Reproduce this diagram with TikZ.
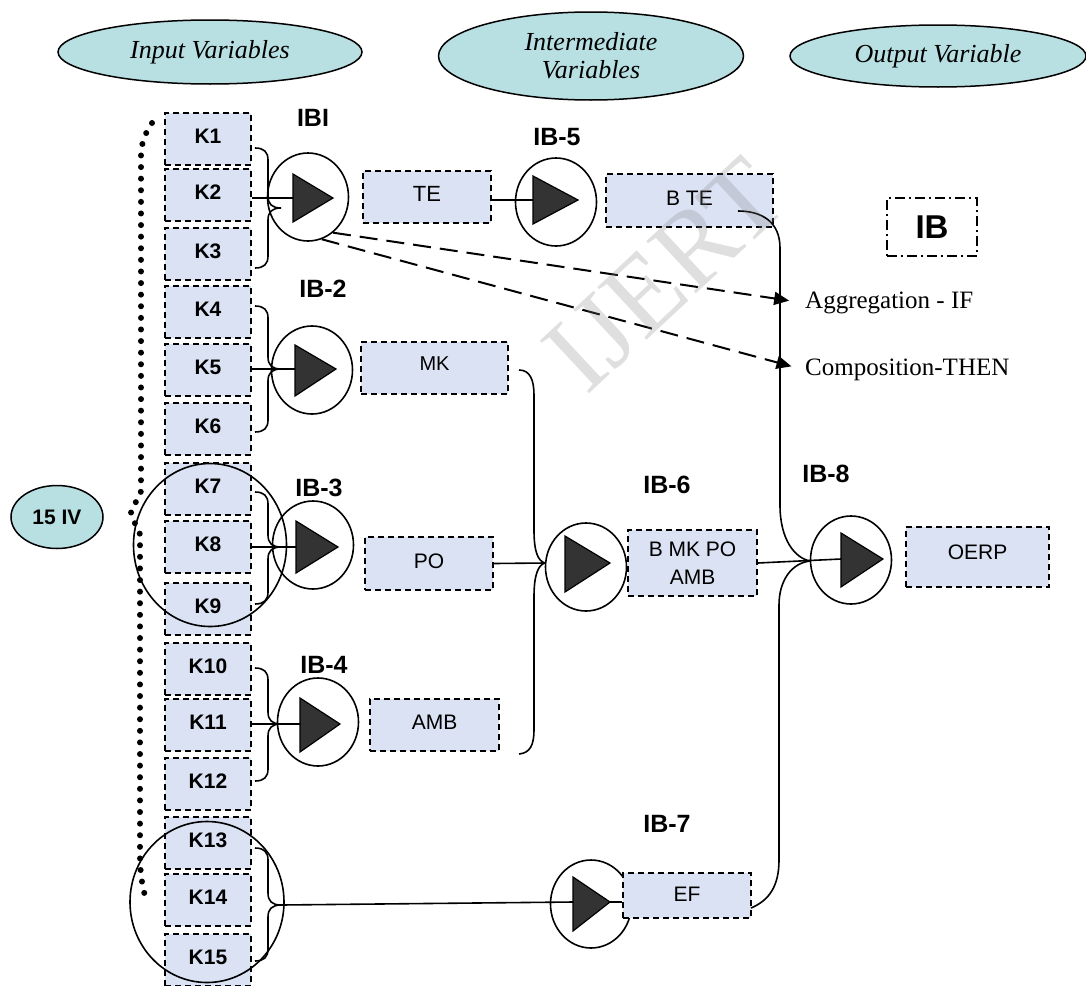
\documentclass[tikz,border=0pt]{standalone}
\usepackage{fontspec}
\setmainfont{Liberation Sans}
\newfontfamily\serifrm{Liberation Serif}
\usetikzlibrary{shapes.geometric,arrows.meta,calc}
\definecolor{ellfill}{RGB}{184,223,226}
\definecolor{boxfill}{RGB}{218,226,243}
\definecolor{trifill}{RGB}{51,51,51}
\newcommand{\fs}[1]{\fontsize{#1}{#1}\selectfont}
\newcommand{\rz}[2]{\raisebox{#1pt}{#2}}
% triangle: name, left x, top y, bottom y, tip x, tip y
\newcommand{\tri}[6]{%
  \filldraw[fill=trifill, draw=black, line width=1.2pt, line join=miter] (#2,#3) -- (#5,#6) -- (#2,#4) -- cycle;
  \coordinate (#1) at (#2,#6);
  \coordinate (#1tip) at (#5,#6);}
% brace: top y, mid y, bottom y, tip name
\newcommand{\kbrace}[4]{%
  \draw[conn] (255,#1) .. controls (264,#1) and (268,#1+4) .. (268,#1+12)
     -- (268,#2-12) .. controls (268,#2-4) and (272,#2) .. (281,#2) coordinate (#4)
     .. controls (272,#2) and (268,#2+4) .. (268,#2+12)
     -- (268,#3-12) .. controls (268,#3-4) and (264,#3) .. (255,#3);}
\begin{document}
\begin{tikzpicture}[x=1pt,y=-1pt,
  hdr/.style={ellipse, draw, line width=1.5pt, fill=ellfill, inner sep=0pt, align=center,
    font=\serifrm\itshape\fontsize{26}{28}\selectfont},
  kbox/.style={draw, line width=1.6pt, dash pattern=on 6pt off 4pt, fill=boxfill,
    minimum width=86pt, minimum height=52pt, inner sep=0pt, font=\bfseries\fs{21}},
  vbox/.style={draw, line width=1.6pt, dash pattern=on 6pt off 4pt, fill=boxfill,
    inner sep=0pt, font=\fs{21}},
  gate/.style={ellipse, draw, line width=1.6pt, minimum width=81pt, minimum height=88pt, inner sep=0pt},
  iblab/.style={font=\bfseries\fs{25}, inner sep=0pt},
  conn/.style={line width=1.6pt},
  dasharr/.style={line width=2pt, dash pattern=on 18pt off 9pt, -{Triangle[length=15pt,width=13pt]}},
  dotline/.style={line width=6pt, line cap=round, dash pattern=on 0pt off 11.6pt},
  sidetext/.style={anchor=west, inner sep=0pt, font=\serifrm\fs{25}}
]
\useasboundingbox (0,0) rectangle (1086,985);

% header ellipses
\node[hdr, minimum width=304pt, minimum height=64pt] (hin) at (210,52) {Input Variables};
\node[hdr, minimum width=305pt, minimum height=88pt] (hmid) at (591,56) {Intermediate\\Variables};
\node[hdr, minimum width=296pt, minimum height=62pt] (hout) at (938,56) {Output Variable};
\node[hdr, font=\bfseries\fs{21}, minimum width=92pt, minimum height=63pt] (iv) at (57,517) {15 IV};

% dotted line
\draw[dotline] (152,123) .. controls (146,132) and (141,142) .. (141,156) -- (141,490)
  .. controls (141,500) and (131,504) .. (131,513) .. controls (131,522) and (140,526) .. (140,536)
  -- (140,855) .. controls (140,875) and (143,890) .. (147,903);

% K boxes
\foreach \i/\t in {1/113,2/169,3/228,4/286,5/344,6/403,7/463,8/521,9/583,10/643,11/699,12/758,13/817,14/874,15/934}
  \node[kbox] (K\i) at (208,\t+26) {\rz{5}{K\i}};

% grouping circles
\node[ellipse, draw, line width=1.6pt, minimum width=153pt, minimum height=163pt, inner sep=0pt] (c789) at (210,545) {};
\node[ellipse, draw, line width=1.6pt, minimum width=154pt, minimum height=161pt, inner sep=0pt] (c1315) at (207,902) {};

% braces
\kbrace{148}{208}{268}{b1}
\kbrace{306}{369}{432}{b2}
\kbrace{492}{547}{604}{b3}
\kbrace{668}{724}{781}{b4}
\kbrace{848}{905}{961}{b5}

% gates
\node[gate] (g1) at (308,197) {};
\node[gate] (g2) at (312,370) {};
\node[gate] (g3) at (313,545) {};
\node[gate] (g4) at (318,722) {};
\node[gate] (g5) at (556,202) {};
\node[gate] (g6) at (586,567) {};
\node[gate] (g7) at (591,904) {};
\node[gate] (g8) at (851,560) {};

% gate labels
\node[iblab] (l1) at (313,118) {IBI};
\node[iblab] (l2) at (323,289) {IB-2};
\node[iblab] (l3) at (319,488) {IB-3};
\node[iblab] (l4) at (324,665) {IB-4};
\node[iblab] (l5) at (557,137) {IB-5};
\node[iblab] (l6) at (667,485) {IB-6};
\node[iblab] (l7) at (667,824) {IB-7};
\node[iblab] (l8) at (826,474) {IB-8};

% value boxes
\node[vbox, font=\fs{22}, minimum width=128pt, minimum height=52pt] (TE) at (427,197) {\rz{6}{TE}};
\node[vbox, minimum width=167pt, minimum height=53pt] (BTE) at (689.5,200.5) {\rz{5}{B TE}};
\node[vbox, font=\fs{20}, minimum width=147pt, minimum height=52pt] (MK) at (434.5,368) {\rz{8}{MK}};
\node[vbox, font=\fs{21}, minimum width=128pt, minimum height=53pt] (PO) at (429,563.5) {\rz{5}{PO}};
\node[vbox, font=\fs{21}, minimum width=129pt, minimum height=52pt] (AMB) at (434.5,725) {\rz{6}{AMB}};
\node[vbox, align=center, font=\fontsize{21}{28}\selectfont, minimum width=129pt, minimum height=66pt] (BMK) at (692.5,563) {B MK PO\\AMB};
\node[vbox, minimum width=128pt, minimum height=45pt] (EF) at (687,895.5) {\rz{2}{EF}};
\node[vbox, minimum width=143pt, minimum height=60pt] (OERP) at (977.5,557) {\rz{10}{OERP}};

% legend
\node[draw, line width=1.5pt, dash pattern=on 10pt off 4pt on 2pt off 4pt, minimum width=90pt,
  minimum height=58pt, inner sep=0pt, font=\bfseries\fs{33}] (leg) at (932,227) {IB};

% side texts
\node[sidetext] (agg) at (805,303) {Aggregation - IF};
\node[sidetext] (comp) at (805,370) {Composition-THEN};

% connection points
\coordinate (m6in) at (545,563);
\coordinate (m8in) at (810,561);
\coordinate (mkout) at (519,370);
\coordinate (ambout) at (519,754);
\coordinate (bteout) at (738,211);
\coordinate (efout) at (751,908);

% triangle anchor points for connectors
\coordinate (t1) at (293,198);
\coordinate (t2) at (295,369);
\coordinate (t3) at (296,547);
\coordinate (t4) at (300,724);
\coordinate (t5) at (533,200);
\coordinate (t7) at (573,902);
\coordinate (t7tip) at (610,902);
\coordinate (t8) at (841,559);

% connectors
\draw[conn] (K2.east |- t1) -- (t1);
\draw[conn] (K5.east |- t2) -- (t2);
\draw[conn] (K8.east |- t3) -- (t3);
\draw[conn] (K11.east |- t4) -- (t4);
\draw[conn] (b5) -- (t7);
\draw[conn] (TE.east |- t5) -- (t5);
\draw[conn] (t7tip) -- (EF.west |- t7tip);
\draw[conn] (PO.east) -- (m6in);
\draw[conn] (mkout) .. controls (530,370) and (534,380) .. (534,395) -- (534,530)
  .. controls (534,552) and (538,561) .. (m6in);
\draw[conn] (ambout) .. controls (530,753) and (534,745) .. (534,730) -- (534,597)
  .. controls (534,575) and (538,565) .. (m6in);
\draw[conn] (bteout) .. controls (762,211) and (780,222) .. (780,248) -- (780,505)
  .. controls (780,540) and (795,558) .. (m8in);
\draw[conn] (efout) .. controls (770,900) and (779,885) .. (779,860) -- (779,605)
  .. controls (779,580) and (792,563) .. (m8in);
\draw[conn] (BMK.east) -- (t8);

\draw[dasharr, shorten >=16pt] (g1.-55) -- (agg.west);
\draw[dasharr, shorten >=14pt] (g1.-72) -- (comp.west);

% triangles
\tri{tr1}{293}{174}{222}{333}{198}
\tri{tr2}{295}{345}{396}{336}{369}
\tri{tr3}{296}{521}{573}{338}{547}
\tri{tr4}{300}{698}{752}{340}{724}
\tri{tr5}{533}{176}{224}{578}{200}
\tri{tr6}{565}{536}{592}{610}{563}
\tri{tr7}{573}{877}{931}{610}{902}
\tri{tr8}{841}{533}{587}{883}{559}

% watermark
\node[rotate=43, font=\serifrm\fs{110}, text=gray, opacity=0.25] (wm) at (665,275) {IJERT};
\end{tikzpicture}
\end{document}
